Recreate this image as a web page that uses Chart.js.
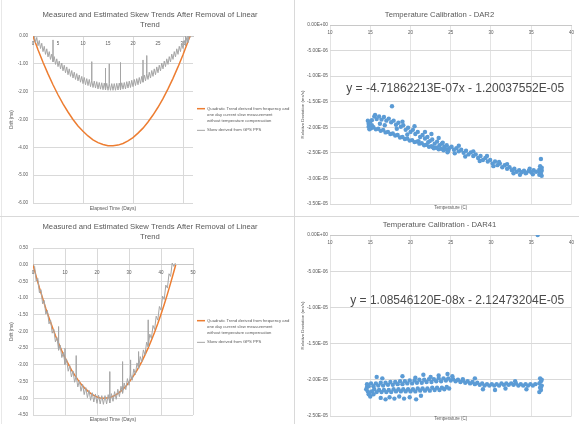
<!DOCTYPE html>
<html>
<head>
<meta charset="utf-8">
<script src="https://cdn.jsdelivr.net/npm/chart.js@4.4.1/dist/chart.umd.min.js"></script>
<style>
  html, body { margin: 0; padding: 0; background: #ffffff; }
  body { position: relative; width: 579px; height: 424px; overflow: hidden; }
  canvas { position: absolute; }
  .ln { position: absolute; background: #d9d9d9; }
</style>
</head>
<body>
<div class="ln" style="left:1px;top:0;width:1px;height:424px;background:#e8e8e8"></div>
<div class="ln" style="left:294px;top:0;width:1px;height:424px"></div>
<div class="ln" style="left:0;top:216px;width:579px;height:1px"></div>
<canvas id="tl" width="293" height="216" style="left:0;top:0"></canvas>
<canvas id="tr" width="283" height="216" style="left:296px;top:0"></canvas>
<canvas id="bl" width="293" height="207" style="left:0;top:217px"></canvas>
<canvas id="br" width="283" height="207" style="left:296px;top:217px"></canvas>
<script>
// ---------------- texts ----------------
const SKEW_TITLE = ['Measured and Estimated Skew Trends After Removal of Linear', 'Trend'];
const QUAD_NAME = ['Quadratic Trend derived from frequency and', 'one day current slew measurement', 'without temperature compensation'];
const GPS_NAME = 'Skew derived from GPS PPS';
const DAYS_TITLE = 'Elapsed Time (Days)';
const DRIFT_TITLE = 'Drift (ms)';
const DAR2_TITLE = 'Temperature Calibration - DAR2';
const DAR41_TITLE = 'Temperature Calibration - DAR41';
const TEMP_TITLE = 'Temperature (C)';
const DEV_TITLE = 'Relative Deviation (ms/s)';
const DAR2_EQ = 'y = -4.71862213E-07x - 1.20037552E-05';
const DAR41_EQ = 'y = 1.08546120E-08x - 2.12473204E-05';

// ---------------- tick labels ----------------
const TL_X_TICKS = [0, 5, 10, 15, 20, 25, 30];
const TL_Y_TICKS = [0, -1, -2, -3, -4, -5, -6];
const BL_X_TICKS = [0, 10, 20, 30, 40, 50];
const BL_Y_TICKS = [0.5, 0, -0.5, -1, -1.5, -2, -2.5, -3, -3.5, -4, -4.5];
const TEMP_TICKS = [10, 15, 20, 25, 30, 35, 40];
const DAR2_Y_TICKS = [0, -5e-6, -1e-5, -1.5e-5, -2e-5, -2.5e-5, -3e-5, -3.5e-5];
const DAR41_Y_TICKS = [0, -5e-6, -1e-5, -1.5e-5, -2e-5, -2.5e-5];

// ---------------- top-left: skew trends (days, ms) ----------------
const TL_QUAD_DAYS = [0,1,2,3,4,5,6,7,8,9,10,11,12,13,14,15,16,17,18,19,20,21,22,23,24,25,26,27,28,29,30,31,31.4];
const TL_QUAD_DRIFT = [0,-0.49,-0.94,-1.36,-1.75,-2.11,-2.44,-2.73,-3.00,-3.23,-3.42,-3.59,-3.73,-3.83,-3.90,-3.94,-3.94,-3.92,-3.86,-3.77,-3.65,-3.49,-3.31,-3.09,-2.84,-2.56,-2.25,-1.90,-1.52,-1.11,-0.67,-0.20,0];
// GPS skew: noisy band, repeated days are the single-sample spikes
const TL_GPS_DAYS = [0,0.25,0.5,0.75,1,1.25,1.5,1.75,2,2.25,2.5,2.75,3,3.25,3.5,3.75,
  4,4,4,
  4.25,4.5,4.75,5,5.25,5.5,5.75,6,6.25,6.5,6.75,7,7.25,7.5,7.75,8,8.25,8.5,8.75,9,9.25,9.5,9.75,10,10.25,10.5,10.75,11,11.25,11.5,
  11.75,11.75,11.75,
  12,12.25,12.5,12.75,13,13.25,13.5,13.75,14,14.25,
  14.5,14.5,14.5,
  14.75,15,
  15.25,15.25,15.25,
  15.5,15.75,16,16.25,16.5,16.75,17,17.25,
  17.5,17.5,17.5,
  17.75,18,18.25,18.5,18.75,19,19.25,19.5,19.75,20,20.25,20.5,20.75,21,21.25,21.5,21.75,
  22,22,22,
  22.25,22.5,
  22.75,22.75,22.75,
  23,23.25,23.5,23.75,24,24.25,24.5,24.75,25,25.25,25.5,25.75,26,26.25,26.5,26.75,27,27.25,27.5,27.75,28,28.25,28.5,28.75,29,29.25,29.5,29.75,30,30.25,
  30.5,30.5,30.5,
  30.75,
  31,31,31,
  31.25,31.5];
const TL_GPS_DRIFT = [0.00,0.02,-0.23,-0.05,-0.35,-0.16,-0.45,-0.26,-0.56,-0.37,-0.66,-0.46,-0.75,-0.56,-0.84,-0.65,
  -0.93,-0.14,-0.93,
  -0.74,-1.02,-0.82,-1.10,-0.90,-1.18,-0.97,-1.25,-1.05,-1.32,-1.11,-1.39,-1.18,-1.45,-1.24,-1.51,-1.30,-1.56,-1.35,-1.61,-1.40,-1.66,-1.45,-1.71,-1.49,-1.75,-1.53,-1.78,-1.56,-1.82,
  -1.59,-0.92,-1.59,
  -1.85,-1.62,-1.87,-1.64,-1.90,-1.67,-1.91,-1.68,-1.93,-1.69,
  -1.94,-1.15,-1.94,
  -1.70,-1.95,
  -1.71,-1.00,-1.71,
  -1.95,-1.71,-1.95,-1.71,-1.95,-1.70,-1.94,-1.69,
  -1.93,-0.95,-1.93,
  -1.68,-1.91,-1.67,-1.90,-1.64,-1.87,-1.62,-1.85,-1.59,-1.82,-1.56,-1.78,-1.53,-1.75,-1.49,-1.71,-1.45,
  -1.66,-0.86,-1.66,
  -1.40,-1.61,
  -1.35,-0.70,-1.35,
  -1.56,-1.30,-1.51,-1.24,-1.45,-1.18,-1.39,-1.11,-1.32,-1.05,-1.25,-0.97,-1.18,-0.90,-1.10,-0.82,-1.02,-0.74,-0.93,-0.65,-0.84,-0.56,-0.75,-0.46,-0.66,-0.37,-0.56,-0.26,-0.45,-0.16,
  -0.35,0.00,-0.35,
  -0.05,
  -0.23,0.00,-0.23,
  0.02,-0.05];

// ---------------- bottom-left: skew trends (days, ms) ----------------
const BL_QUAD_DAYS = [0,1,2,3,4,5,6,7,8,9,10,11,12,13,14,15,16,17,18,19,20,21,22,23,24,25,26,27,28,29,30,31,32,33,34,35,36,37,38,39,40,41,42,43,44,44.6];
const BL_QUAD_DRIFT = [0,-0.35,-0.69,-1.00,-1.31,-1.59,-1.86,-2.12,-2.35,-2.58,-2.78,-2.97,-3.15,-3.30,-3.44,-3.57,-3.68,-3.77,-3.85,-3.91,-3.96,-3.99,-4.00,-3.99,-3.98,-3.94,-3.89,-3.82,-3.74,-3.64,-3.52,-3.39,-3.24,-3.08,-2.90,-2.70,-2.49,-2.26,-2.02,-1.76,-1.48,-1.19,-0.88,-0.55,-0.21,0];
const BL_GPS_DAYS = [0,0.5,1,1.5,2,2.5,3,3.5,4,4.5,5,5.5,6,6.5,7,7.5,
  8,8,8,
  8.5,9,9.5,
  10,10,10,
  10.5,11,11.5,12,12.5,13,
  13.5,13.5,13.5,
  14,14.5,15,15.5,16,16.5,17,17.5,18,18.5,19,19.5,20,20.5,21,21.5,22,22.5,23,23.5,
  24,24,24,
  24.5,25,25.5,26,26.5,27,27.5,
  28,28,28,
  28.5,29,29.5,30,
  30.5,30.5,30.5,
  31,31.5,32,32.5,
  33,33,33,
  33.5,34,34.5,35,35.5,
  36,36,36,
  36.5,37,37.5,38,38.5,39,39.5,40,40.5,41,41.5,42,42.5,43,43.5,44,44.5];
const BL_GPS_DRIFT = [0.00,-0.05,-0.49,-0.41,-0.84,-0.75,-1.17,-1.07,-1.48,-1.37,-1.77,-1.66,-2.05,-1.93,-2.31,-2.18,
  -2.56,-1.85,-2.56,
  -2.41,-2.78,-2.63,
  -2.99,-2.50,-2.99,
  -2.83,-3.19,-3.02,-3.36,-3.18,-3.52,
  -3.33,-2.72,-3.33,
  -3.66,-3.47,-3.79,-3.58,-3.89,-3.68,-3.98,-3.76,-4.06,-3.83,-4.11,-3.87,-4.15,-3.91,-4.17,-3.92,-4.18,-3.92,-4.17,-3.89,
  -4.14,-3.20,-4.14,
  -3.86,-4.09,-3.80,-4.03,-3.73,-3.95,-3.64,
  -3.85,-2.90,-3.85,
  -3.54,-3.74,-3.41,-3.61,
  -3.27,-2.85,-3.27,
  -3.46,-3.12,-3.29,-2.94,
  -3.11,-2.60,-3.11,
  -2.75,-2.91,-2.55,-2.70,-2.32,
  -2.46,-1.65,-2.46,
  -2.08,-2.21,-1.82,-1.94,-1.54,-1.66,-1.25,-1.36,-0.94,-1.04,-0.61,-0.70,-0.27,-0.35,0.05,-0.05,0.05];

// ---------------- top-right: DAR2 (temperature C, relative deviation) ----------------
const DAR2_UPPER_T = [15.2,15.5,15.8,16.1,16.4,16.7,17.0,17.3,17.6,17.9,
  18.2,18.5,18.8,19.1,19.4,19.7,20.0,20.3,20.6,20.9,
  21.2,21.5,21.8,22.1,22.4,22.7,23.0,23.3,23.6,23.9,
  24.2,24.5,24.8,25.1,25.4,25.7,26.0,26.3,26.6,26.9,
  27.2,27.5,27.8,28.1,28.4,28.7,29.0,29.3,29.6,29.9,
  30.2,30.5,30.8,31.1,31.4,31.7,32.0,32.3,32.6,32.9,
  33.2,33.5,33.8,34.1,34.4,34.7,35.0,35.3,35.6];
const DAR2_UPPER_DEV = [-1.86e-5,-1.79e-5,-1.84e-5,-1.79e-5,-1.85e-5,-1.80e-5,-1.87e-5,-1.83e-5,-1.90e-5,-1.87e-5,
  -1.95e-5,-1.91e-5,-1.99e-5,-1.96e-5,-2.05e-5,-2.01e-5,-2.09e-5,-2.05e-5,-2.13e-5,-2.09e-5,
  -2.19e-5,-2.15e-5,-2.22e-5,-2.19e-5,-2.27e-5,-2.24e-5,-2.32e-5,-2.28e-5,-2.35e-5,-2.32e-5,
  -2.38e-5,-2.35e-5,-2.41e-5,-2.38e-5,-2.44e-5,-2.41e-5,-2.47e-5,-2.44e-5,-2.50e-5,-2.46e-5,
  -2.53e-5,-2.49e-5,-2.56e-5,-2.53e-5,-2.60e-5,-2.56e-5,-2.64e-5,-2.60e-5,-2.67e-5,-2.64e-5,
  -2.71e-5,-2.67e-5,-2.74e-5,-2.71e-5,-2.78e-5,-2.74e-5,-2.81e-5,-2.78e-5,-2.84e-5,-2.81e-5,
  -2.87e-5,-2.84e-5,-2.88e-5,-2.85e-5,-2.89e-5,-2.85e-5,-2.88e-5,-2.84e-5,-2.87e-5];
const DAR2_LOWER_T = [14.8,15.1,15.4,15.7,16.0,16.3,16.6,16.9,17.2,17.5,
  17.8,18.1,18.4,18.7,19.0,19.3,19.6,19.9,20.2,20.5,
  20.8,21.1,21.4,21.7,22.0,22.3,22.6,22.9,23.2,23.5,
  23.8,24.1,24.4,24.7];
const DAR2_LOWER_DEV = [-1.99e-5,-2.02e-5,-2.00e-5,-2.04e-5,-2.03e-5,-2.07e-5,-2.05e-5,-2.10e-5,-2.09e-5,-2.13e-5,
  -2.12e-5,-2.16e-5,-2.15e-5,-2.20e-5,-2.19e-5,-2.23e-5,-2.22e-5,-2.26e-5,-2.25e-5,-2.29e-5,
  -2.28e-5,-2.32e-5,-2.31e-5,-2.35e-5,-2.34e-5,-2.38e-5,-2.37e-5,-2.41e-5,-2.40e-5,-2.43e-5,
  -2.42e-5,-2.45e-5,-2.43e-5,-2.46e-5];
const DAR2_SCATTER_T = [14.7,14.8,15.0,14.9,15.2,15.6,16.2,16.8,17.7,18.3,
  19.0,19.6,20.5,21.0,21.8,22.6,22.8,23.5,24.0,24.6,
  25.5,26.0,26.8,27.8,28.6,29.5,30.3,31.0,32.0,32.8,
  33.6,34.3,34.8,35.2,22.2,
  36.1,36.2,36.0,36.3,36.1,36.2,36.0,36.3,36.2,36.1,36.3,36.2];
const DAR2_SCATTER_DEV = [-1.87e-5,-1.93e-5,-1.89e-5,-2.04e-5,-1.96e-5,-1.76e-5,-1.93e-5,-1.96e-5,-1.59e-5,-2.03e-5,
  -1.89e-5,-2.14e-5,-1.98e-5,-2.27e-5,-2.09e-5,-2.13e-5,-2.39e-5,-2.21e-5,-2.30e-5,-2.49e-5,
  -2.51e-5,-2.36e-5,-2.57e-5,-2.47e-5,-2.66e-5,-2.56e-5,-2.76e-5,-2.68e-5,-2.72e-5,-2.90e-5,
  -2.93e-5,-2.90e-5,-2.81e-5,-2.92e-5,-2.29e-5,
  -2.76e-5,-2.80e-5,-2.83e-5,-2.85e-5,-2.88e-5,-2.91e-5,-2.93e-5,-2.95e-5,-2.82e-5,-2.90e-5,-2.79e-5,-2.62e-5];

// ---------------- bottom-right: DAR41 ----------------
const DAR41_UPPER_T = [14.8,15.1,15.4,15.7,16.0,16.3,16.6,16.9,17.2,17.5,
  17.8,18.1,18.4,18.7,19.0,19.3,19.6,19.9,20.2,20.5,
  20.8,21.1,21.4,21.7,22.0,22.3,22.6,22.9,23.2,23.5,
  23.8,24.1,24.4,24.7,25.0,25.3,25.6,25.9,26.2,26.5,
  26.8,27.1,27.4,27.7,28.0,28.3,28.6,28.9,29.2,29.5,
  29.8,30.1,30.4,30.7,31.0,31.3,31.6,31.9,32.2,32.5,
  32.8,33.1,33.4,33.7,34.0,34.3,34.6,34.9,35.2,35.5];
const DAR41_UPPER_DEV = [-2.09e-5,-2.05e-5,-2.09e-5,-2.05e-5,-2.08e-5,-2.04e-5,-2.08e-5,-2.04e-5,-2.07e-5,-2.03e-5,
  -2.07e-5,-2.03e-5,-2.06e-5,-2.02e-5,-2.06e-5,-2.02e-5,-2.05e-5,-2.01e-5,-2.05e-5,-2.01e-5,
  -2.04e-5,-2.00e-5,-2.04e-5,-2.00e-5,-2.03e-5,-1.99e-5,-2.03e-5,-1.99e-5,-2.02e-5,-1.98e-5,
  -2.02e-5,-1.98e-5,-2.01e-5,-1.98e-5,-2.01e-5,-1.99e-5,-2.02e-5,-2.00e-5,-2.03e-5,-2.01e-5,
  -2.04e-5,-2.02e-5,-2.05e-5,-2.03e-5,-2.06e-5,-2.04e-5,-2.07e-5,-2.05e-5,-2.08e-5,-2.06e-5,
  -2.08e-5,-2.06e-5,-2.08e-5,-2.06e-5,-2.08e-5,-2.05e-5,-2.07e-5,-2.05e-5,-2.07e-5,-2.05e-5,
  -2.07e-5,-2.05e-5,-2.08e-5,-2.06e-5,-2.08e-5,-2.06e-5,-2.08e-5,-2.06e-5,-2.08e-5,-2.06e-5];
const DAR41_LOWER_T = [15.2,15.5,15.8,16.1,16.4,16.7,17.0,17.3,17.6,17.9,
  18.2,18.5,18.8,19.1,19.4,19.7,20.0,20.3,20.6,20.9,
  21.2,21.5,21.8,22.1,22.4,22.7,23.0,23.3,23.6,23.9,
  24.2,24.5,24.8];
const DAR41_LOWER_DEV = [-2.16e-5,-2.13e-5,-2.17e-5,-2.14e-5,-2.17e-5,-2.14e-5,-2.17e-5,-2.14e-5,-2.17e-5,-2.13e-5,
  -2.16e-5,-2.13e-5,-2.16e-5,-2.13e-5,-2.16e-5,-2.13e-5,-2.16e-5,-2.13e-5,-2.16e-5,-2.12e-5,
  -2.15e-5,-2.12e-5,-2.15e-5,-2.12e-5,-2.15e-5,-2.11e-5,-2.14e-5,-2.11e-5,-2.14e-5,-2.11e-5,
  -2.13e-5,-2.10e-5,-2.12e-5];
const DAR41_SCATTER_T = [16.3,16.9,17.4,18.0,18.6,19.2,19.9,20.7,21.3,15.0,15.4,
  14.6,14.7,14.5,14.8,14.6,14.9,
  15.8,16.5,19.0,20.6,21.6,22.5,23.5,24.6,25.2,26.5,28.0,30.5,31.8,33.0,34.4,29.0,
  36.1,36.2,36.0,36.3,36.1,36.2,36.0,36.3,36.2,
  35.8];
const DAR41_SCATTER_DEV = [-2.25e-5,-2.27e-5,-2.24e-5,-2.26e-5,-2.23e-5,-2.26e-5,-2.24e-5,-2.27e-5,-2.22e-5,-2.23e-5,-2.20e-5,
  -2.10e-5,-2.16e-5,-2.13e-5,-2.20e-5,-2.06e-5,-2.18e-5,
  -1.96e-5,-1.98e-5,-1.95e-5,-1.97e-5,-1.93e-5,-1.96e-5,-1.94e-5,-1.92e-5,-1.95e-5,-1.99e-5,-1.98e-5,-2.14e-5,-2.12e-5,-2.02e-5,-2.13e-5,-2.13e-5,
  -1.98e-5,-2.02e-5,-2.05e-5,-2.08e-5,-2.11e-5,-2.14e-5,-2.17e-5,-2.00e-5,-2.10e-5,
  0];

// ---------------- styling ----------------
const ORANGE = '#ED7D31', GRAY = '#A5A5A5', BLUE = '#5B9BD5';
const GRID = '#D9D9D9', TXT = '#595959';
const FONT = '"Liberation Sans", Arial, sans-serif';
Chart.defaults.font.family = FONT;
Chart.defaults.color = TXT;

function pts(xs, ys) { return xs.map((x, i) => ({ x: x, y: ys[i] })); }
function fixedTicks(values) { return function (scale) { scale.ticks = values.map(v => ({ value: v })); }; }
function sci(v) {
  if (Math.abs(v) < 1e-12) return '0.00E+00';
  const parts = v.toExponential(2).split('e');
  const n = parseInt(parts[1], 10);
  return parts[0] + 'E' + (n < 0 ? '-' : '+') + String(Math.abs(n)).padStart(2, '0');
}

const extraText = {
  id: 'extraText',
  afterDraw(chart, args, o) {
    const ctx = chart.ctx, ca = chart.chartArea;
    ctx.save();
    ctx.fillStyle = TXT;
    ctx.textAlign = 'center';
    ctx.textBaseline = 'middle';
    if (o.xTitle) {
      ctx.font = o.xTitleSize + 'px ' + FONT;
      ctx.fillText(o.xTitle, (ca.left + ca.right) / 2, ca.bottom + o.xTitleGap);
    }
    if (o.equation) {
      ctx.fillStyle = '#4a4a4a';
      ctx.font = o.equationSize + 'px ' + FONT;
      ctx.fillText(o.equation, chart.scales.x.getPixelForValue(o.eqX), chart.scales.y.getPixelForValue(o.eqY));
    }
    ctx.restore();
  }
};

function driftChart(id, c) {
  return new Chart(document.getElementById(id), {
    type: 'line',
    data: {
      datasets: [
        { label: QUAD_NAME, data: pts(c.qx, c.qy), borderColor: ORANGE, backgroundColor: ORANGE,
          borderWidth: 1.5, pointRadius: 0, pointHoverRadius: 0, fill: false, order: 1 },
        { label: GPS_NAME, data: pts(c.gx, c.gy), borderColor: GRAY, backgroundColor: GRAY,
          borderWidth: 1, pointRadius: 0, pointHoverRadius: 0, fill: false, order: 0 }
      ]
    },
    plugins: [extraText],
    options: {
      responsive: false, animation: false, devicePixelRatio: 1,
      layout: { padding: { left: 7, right: 0, top: 0, bottom: c.padBottom } },
      plugins: {
        tooltip: { enabled: false },
        title: { display: true, text: SKEW_TITLE, color: TXT,
          font: { size: 7.7, weight: 'normal', lineHeight: 1.3 }, padding: c.titlePad },
        legend: { display: true, position: 'right', align: 'center', fullSize: false, maxWidth: 100,
          labels: { usePointStyle: true, pointStyle: 'line', pointStyleWidth: 8, padding: 4, color: TXT,
            font: { size: 4.2, lineHeight: 1.4 }, sort: (a, b) => a.datasetIndex - b.datasetIndex } },
        extraText: { xTitle: DAYS_TITLE, xTitleSize: 5, xTitleGap: c.xTitleGap }
      },
      scales: {
        x: { type: 'linear', position: { y: 0 }, min: c.xMin, max: c.xMax,
          afterBuildTicks: fixedTicks(c.xTicks),
          grid: { drawTicks: false, color: g => (g.tick && Math.abs(g.tick.value % c.gridStep) < 1e-9) ? GRID : 'rgba(0,0,0,0)' },
          border: { display: true, color: '#C8C8C8' },
          ticks: { font: { size: 4.5 }, color: TXT, padding: 5, maxRotation: 0, autoSkip: false } },
        y: { type: 'linear', position: 'left', min: c.yMin, max: c.yMax,
          afterBuildTicks: fixedTicks(c.yTicks),
          afterFit: s => { s.width = 26; },
          grid: { drawTicks: false, color: GRID },
          border: { display: false },
          ticks: { font: { size: 4.5 }, color: TXT, padding: 5, autoSkip: false, callback: v => Number(v).toFixed(2) },
          title: { display: true, text: DRIFT_TITLE, color: TXT, font: { size: 4.5 }, padding: { top: 2.3, bottom: 0 } } }
      }
    }
  });
}

function calChart(id, c) {
  return new Chart(document.getElementById(id), {
    type: 'scatter',
    data: {
      datasets: [{ label: c.name, data: pts(c.t, c.dev), backgroundColor: BLUE, borderColor: BLUE,
        borderWidth: 0, pointRadius: 2.2, pointHoverRadius: 2.2 }]
    },
    plugins: [extraText],
    options: {
      responsive: false, animation: false, devicePixelRatio: 1,
      layout: { padding: { left: 4, right: 0, top: 0, bottom: c.padBottom } },
      plugins: {
        tooltip: { enabled: false },
        legend: { display: false },
        title: { display: true, text: c.title, color: TXT,
          font: { size: 7.7, weight: 'normal', lineHeight: 1.3 }, padding: c.titlePad },
        extraText: { xTitle: TEMP_TITLE, xTitleSize: 4.5, xTitleGap: c.xTitleGap,
          equation: c.equation, equationSize: 12, eqX: c.eqX, eqY: c.eqY }
      },
      scales: {
        x: { type: 'linear', position: { y: 0 }, min: 10, max: 40,
          afterBuildTicks: fixedTicks(TEMP_TICKS),
          grid: { drawTicks: false, color: '#E3E3E3' },
          border: { display: true, color: '#C8C8C8' },
          ticks: { font: { size: 4.5 }, color: TXT, padding: 5, maxRotation: 0, autoSkip: false } },
        y: { type: 'linear', position: 'left', min: c.yMin, max: 0,
          afterBuildTicks: fixedTicks(c.yTicks),
          afterFit: s => { s.width = 30; },
          grid: { drawTicks: false, color: GRID },
          border: { display: false },
          ticks: { font: { size: 4.8 }, color: TXT, padding: 2, autoSkip: false, callback: v => sci(v) },
          title: { display: true, text: DEV_TITLE, color: TXT, font: { size: 4.3 }, padding: { top: 0.4, bottom: 0 } } }
      }
    }
  });
}

driftChart('tl', {
  qx: TL_QUAD_DAYS, qy: TL_QUAD_DRIFT, gx: TL_GPS_DAYS, gy: TL_GPS_DRIFT,
  xMin: 0, xMax: 32, xTicks: TL_X_TICKS, gridStep: 10,
  yMin: -6, yMax: 0, yTicks: TL_Y_TICKS,
  titlePad: { top: 10, bottom: 6 }, padBottom: 13, xTitleGap: 6
});
driftChart('bl', {
  qx: BL_QUAD_DAYS, qy: BL_QUAD_DRIFT, gx: BL_GPS_DAYS, gy: BL_GPS_DRIFT,
  xMin: 0, xMax: 50, xTicks: BL_X_TICKS, gridStep: 10,
  yMin: -4.5, yMax: 0.5, yTicks: BL_Y_TICKS,
  titlePad: { top: 5, bottom: 6 }, padBottom: 9, xTitleGap: 4.7
});
calChart('tr', {
  name: 'DAR2', title: DAR2_TITLE,
  t: DAR2_UPPER_T.concat(DAR2_LOWER_T, DAR2_SCATTER_T),
  dev: DAR2_UPPER_DEV.concat(DAR2_LOWER_DEV, DAR2_SCATTER_DEV),
  yMin: -3.5e-5, yTicks: DAR2_Y_TICKS,
  titlePad: { top: 10, bottom: 5 }, padBottom: 12, xTitleGap: 3.5,
  equation: DAR2_EQ, eqX: 25.55, eqY: -1.25e-5
});
calChart('br', {
  name: 'DAR41', title: DAR41_TITLE,
  t: DAR41_UPPER_T.concat(DAR41_LOWER_T, DAR41_SCATTER_T),
  dev: DAR41_UPPER_DEV.concat(DAR41_LOWER_DEV, DAR41_SCATTER_DEV),
  yMin: -2.5e-5, yTicks: DAR41_Y_TICKS,
  titlePad: { top: 3, bottom: 5 }, padBottom: 8, xTitleGap: 3,
  equation: DAR41_EQ, eqX: 25.8, eqY: -9.07e-6
});
</script>
</body>
</html>
